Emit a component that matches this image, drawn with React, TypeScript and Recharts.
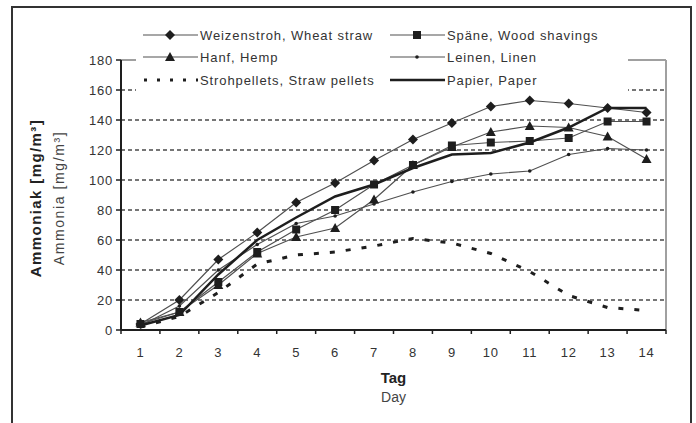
import React from 'react';
import { LineChart, Line, XAxis, YAxis, CartesianGrid, ReferenceLine } from 'recharts';

// values (mg/m³ per day)
const days = [1, 2, 3, 4, 5, 6, 7, 8, 9, 10, 11, 12, 13, 14];
const weizenstroh = [4, 20, 47, 65, 85, 98, 113, 127, 138, 149, 153, 151, 148, 145];
const spaene = [4, 12, 32, 52, 67, 80, 97, 110, 123, 125, 126, 128, 139, 139];
const hanf = [5, 12, 30, 51, 62, 68, 87, 110, 122, 132, 136, 135, 129, 114];
const leinen = [3, 16, 40, 57, 71, 76, 84, 92, 99, 104, 106, 117, 121, 120];
const strohpellets = [2, 9, 25, 44, 50, 52, 56, 61, 58, 51, 39, 23, 15, 13];
const papier = [3, 10, 37, 60, 75, 89, 97, 108, 117, 118, 125, 135, 148, 148];
const yTicks = [0, 20, 40, 60, 80, 100, 120, 140, 160, 180];
const xTicks = [0.5, 1, 1.5, 2, 2.5, 3, 3.5, 4, 4.5, 5, 5.5, 6, 6.5, 7, 7.5, 8, 8.5, 9, 9.5, 10, 10.5, 11, 11.5, 12, 12.5, 13, 13.5, 14, 14.5];

const data = days.map((day, i) => ({
  day,
  weizenstroh: weizenstroh[i],
  spaene: spaene[i],
  hanf: hanf[i],
  leinen: leinen[i],
  strohpellets: strohpellets[i],
  papier: papier[i],
}));

const INK = '#1e1e1e';
const THIN = '#505050';
const FONT = 'Arial, "Liberation Sans", sans-serif';

const diamondDot = (p: any) => (
  <polygon key={`w${p.index}`} points={`${p.cx},${p.cy - 5} ${p.cx + 5},${p.cy} ${p.cx},${p.cy + 5} ${p.cx - 5},${p.cy}`} fill={INK} />
);
const squareDot = (p: any) => (
  <rect key={`s${p.index}`} x={p.cx - 4} y={p.cy - 4} width={8} height={8} fill={INK} />
);
const triangleDot = (p: any) => (
  <polygon key={`h${p.index}`} points={`${p.cx},${p.cy - 5} ${p.cx + 5},${p.cy + 4} ${p.cx - 5},${p.cy + 4}`} fill={INK} />
);
const smallDot = (p: any) => <circle key={`l${p.index}`} cx={p.cx} cy={p.cy} r={1.8} fill={INK} />;

const XTick = (props: any) => {
  const { x, y, payload } = props;
  const v = payload.value;
  if (Number.isInteger(v)) {
    return (
      <text x={x} y={y + 27} textAnchor="middle" fontSize={13} fill="#333" fontFamily={FONT} letterSpacing={0.8}>
        {v}
      </text>
    );
  }
  return <line x1={x} x2={x} y1={y} y2={y + 4} stroke={INK} strokeWidth={1.5} />;
};

const YLabel = (props: any) => {
  const vb = props.viewBox || { x: 0, y: 60, width: 121, height: 270 };
  const cy = vb.y + vb.height / 2 + 3;
  const bx = vb.x + 35;
  const nx = vb.x + 59;
  return (
    <g fontFamily={FONT}>
      <text x={bx} y={cy} transform={`rotate(-90, ${bx}, ${cy})`} textAnchor="middle" dominantBaseline="central" fontSize={15} fontWeight="bold" fill="#222" letterSpacing={1.4}>
        Ammoniak [mg/m³]
      </text>
      <text x={nx} y={cy} transform={`rotate(-90, ${nx}, ${cy})`} textAnchor="middle" dominantBaseline="central" fontSize={14} fill="#444" letterSpacing={1.6}>
        Ammonia [mg/m³]
      </text>
    </g>
  );
};

const XLabel = (props: any) => {
  const vb = props.viewBox || { x: 121, y: 330, width: 545, height: 93 };
  const cx = vb.x + vb.width / 2;
  return (
    <g fontFamily={FONT} textAnchor="middle">
      <text x={cx} y={vb.y + 53} fontSize={15} fontWeight="bold" fill="#222">Tag</text>
      <text x={cx} y={vb.y + 72} fontSize={14} fill="#444">Day</text>
    </g>
  );
};

type Entry = { name: string; kind: 'diamond' | 'square' | 'triangle' | 'small' | 'dotted' | 'thick' };
const legendCol1: Entry[] = [
  { name: 'Weizenstroh, Wheat straw', kind: 'diamond' },
  { name: 'Hanf, Hemp', kind: 'triangle' },
  { name: 'Strohpellets, Straw pellets', kind: 'dotted' },
];
const legendCol2: Entry[] = [
  { name: 'Späne, Wood shavings', kind: 'square' },
  { name: 'Leinen, Linen', kind: 'small' },
  { name: 'Papier, Paper', kind: 'thick' },
];

const Sample = ({ kind }: { kind: Entry['kind'] }) => {
  const m = 27, c = 6;
  return (
    <svg width={55} height={12} style={{ display: 'block' }}>
      {kind === 'dotted' ? (
        <line x1={1} x2={55} y1={c} y2={c} stroke={INK} strokeWidth={3} strokeDasharray="3 10" />
      ) : (
        <line x1={0} x2={55} y1={c} y2={c} stroke={kind === 'thick' ? INK : THIN} strokeWidth={kind === 'thick' ? 2.5 : 1.2} />
      )}
      {kind === 'diamond' && <polygon points={`${m},${c - 5} ${m + 5},${c} ${m},${c + 5} ${m - 5},${c}`} fill={INK} />}
      {kind === 'square' && <rect x={m - 4} y={c - 4} width={8} height={8} fill={INK} />}
      {kind === 'triangle' && <polygon points={`${m},${c - 5} ${m + 5},${c + 4} ${m - 5},${c + 4}`} fill={INK} />}
      {kind === 'small' && <circle cx={m} cy={c} r={1.8} fill={INK} />}
    </svg>
  );
};

const LegendBox = () => {
  const rows = [11, 33, 56];
  const item = (e: Entry, left: number, top: number) => (
    <div key={e.name} style={{ position: 'absolute', left, top: top - 6, display: 'flex', alignItems: 'center', height: 12 }}>
      <Sample kind={e.kind} />
      <span style={{ marginLeft: 2, fontSize: 13, letterSpacing: 0.9, color: '#333', fontFamily: FONT, whiteSpace: 'nowrap' }}>{e.name}</span>
    </div>
  );
  return (
    <div style={{ position: 'absolute', left: 136, top: 24, width: 492, height: 69, background: '#fff' }}>
      {legendCol1.map((e, i) => item(e, 7, rows[i]))}
      {legendCol2.map((e, i) => item(e, 254, rows[i]))}
    </div>
  );
};

export default function App() {
  return (
    <div style={{ position: 'fixed', left: 0, top: 0, width: 696, height: 423, background: '#fff', overflow: 'hidden' }}>
      <div
        style={{
          position: 'absolute', left: 11, top: 6, width: 681, height: 417, boxSizing: 'border-box',
          borderLeft: '2px solid #333', borderTop: '2px solid #333', borderRight: '2px solid #333',
        }}
      />
      <div style={{ position: 'absolute', left: 0, top: 0 }}>
        <LineChart width={696} height={423} data={data} margin={{ top: 60, right: 30, bottom: 0, left: 0 }}>
          <CartesianGrid vertical={false} stroke="#4a4a4a" strokeWidth={1.5} strokeDasharray="4 3" />
          <ReferenceLine y={180} stroke="#a0a0a0" strokeWidth={2} />
          <ReferenceLine x={14.5} stroke="#a0a0a0" strokeWidth={2} />
          <XAxis
            dataKey="day"
            type="number"
            domain={[0.5, 14.5]}
            ticks={xTicks}
            interval={0}
            tickSize={0}
            tickMargin={0}
            tickLine={false}
            tick={XTick}
            height={93}
            axisLine={{ stroke: INK, strokeWidth: 2 }}
            label={XLabel}
          />
          <YAxis
            type="number"
            domain={[0, 180]}
            ticks={yTicks}
            interval={0}
            width={121}
            tickSize={5}
            tickMargin={3}
            tickLine={{ stroke: INK, strokeWidth: 1.5 }}
            axisLine={{ stroke: INK, strokeWidth: 2 }}
            tick={{ fontSize: 13, fill: '#333', fontFamily: FONT, letterSpacing: 0.8 }}
            label={YLabel}
          />
          <Line dataKey="weizenstroh" type="linear" stroke={THIN} strokeWidth={1.2} dot={diamondDot} isAnimationActive={false} />
          <Line dataKey="spaene" type="linear" stroke={THIN} strokeWidth={1.2} dot={squareDot} isAnimationActive={false} />
          <Line dataKey="hanf" type="linear" stroke={THIN} strokeWidth={1.2} dot={triangleDot} isAnimationActive={false} />
          <Line dataKey="leinen" type="linear" stroke={THIN} strokeWidth={1.2} dot={smallDot} isAnimationActive={false} />
          <Line dataKey="strohpellets" type="linear" stroke={INK} strokeWidth={3} strokeDasharray="5 11" dot={false} isAnimationActive={false} />
          <Line dataKey="papier" type="linear" stroke={INK} strokeWidth={2.5} dot={false} isAnimationActive={false} />
        </LineChart>
      </div>
      <LegendBox />
    </div>
  );
}
